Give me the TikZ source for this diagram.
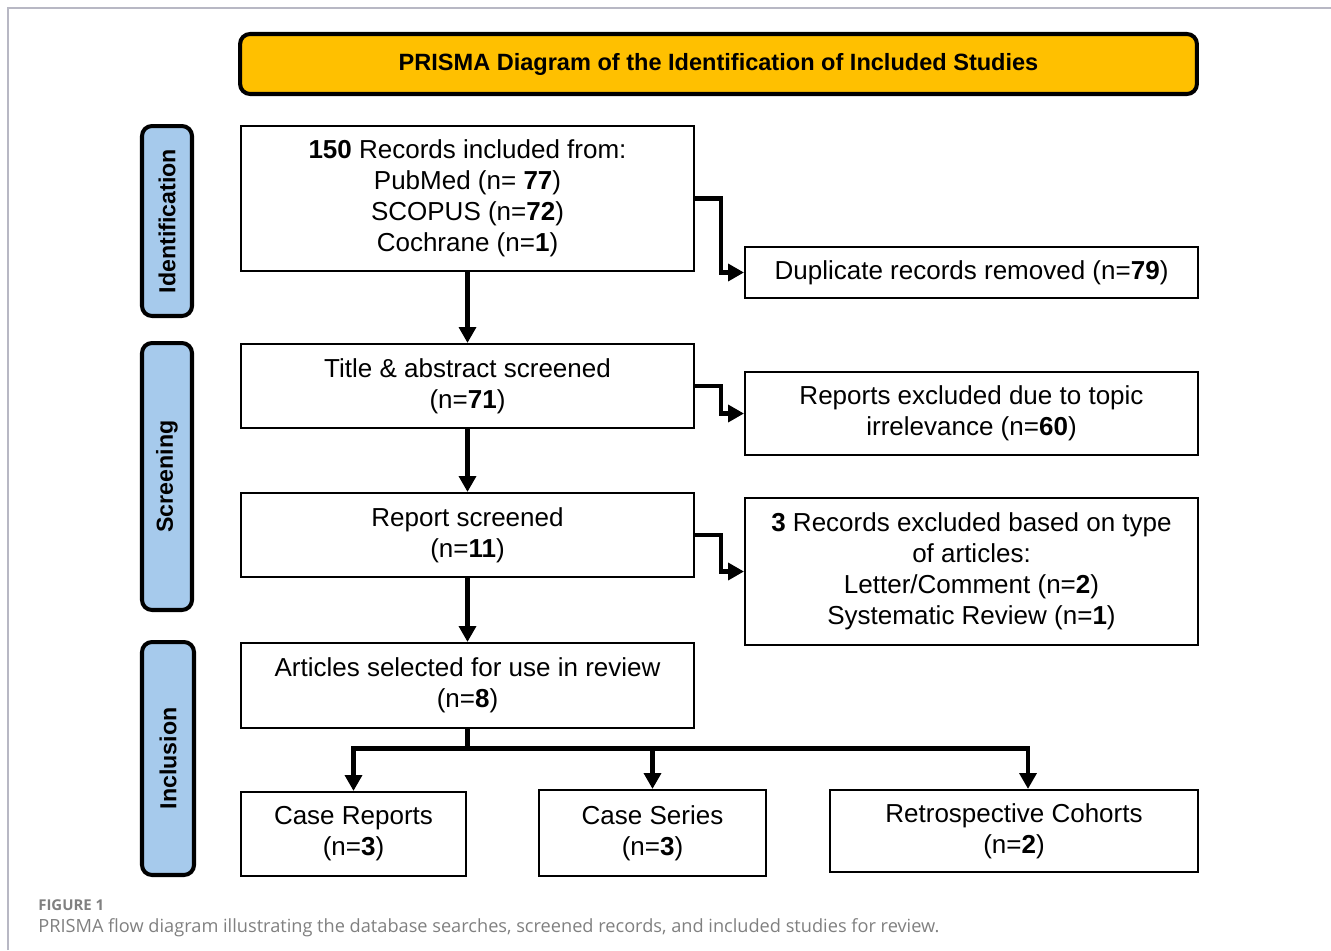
\documentclass[tikz,border=0pt]{standalone}
\usepackage{fontspec}
\setmainfont{Liberation Sans}
\newfontfamily\capfont{Open Sans}
\usetikzlibrary{arrows.meta}
\definecolor{prismagold}{HTML}{FFC000}
\definecolor{stageblue}{HTML}{A6CAEC}
\definecolor{framegray}{HTML}{B8B8C4}
\definecolor{capgray}{HTML}{808080}

\begin{document}
\begin{tikzpicture}[
    x=0.02cm, y=-0.02cm,
    box/.style={draw, line width=1.2pt, inner sep=0pt, align=center,
        minimum width=9.06cm,
        font={\fontsize{14.8}{17.6}\selectfont}},
    stage/.style={draw, line width=2.3pt, rounded corners=0.2cm,
        fill=stageblue, rotate=90, inner sep=0pt, minimum height=1cm,
        font={\fontsize{13.2}{16}\selectfont\bfseries}},
    flow/.style={line width=2.8pt, -{Triangle[length=9pt,width=9.5pt]}},
    link/.style={line width=2.8pt},
    caption/.style={anchor=west, text=capgray, inner sep=0pt},
    ]

    \useasboundingbox (0,0) rectangle (1331,950);

    % Frame lines
    \draw[framegray, line width=0.6pt] (8,950) -- (8,8) -- (1331,8);

    % Heading
    \node[draw, line width=2.3pt, rounded corners=0.2cm, fill=prismagold,
          minimum width=19.14cm, minimum height=1.2cm,
          font={\fontsize{13.4}{16}\selectfont\bfseries}] (heading) at (718.5,64)
        {PRISMA Diagram of the Identification of Included Studies};

    % Stages
    \node[stage, minimum width=3.8cm] (ident) at (167,221) {Identification};
    \node[stage, minimum width=5.34cm] (screening) at (167,476.5) {Screening};
    \node[stage, minimum width=4.66cm, minimum height=1.04cm] (inclusion) at (168,758.5) {Inclusion};

    % Main column
    \node[box, minimum height=2.9cm] (records) at (467.5,198.5)
        {\textbf{150} Records included from:\\ PubMed (n= \textbf{77})\\
         SCOPUS (n=\textbf{72})\\ Cochrane (n=\textbf{1})};
    \node[box, minimum height=1.68cm] (abstract) at (467.5,386)
        {Title \& abstract screened\\ (n=\textbf{71})};
    \node[box, minimum height=1.68cm] (report) at (467.5,535)
        {Report screened\\ (n=\textbf{11})};
    \node[box, minimum height=1.7cm] (articles) at (467.5,685.5)
        {Articles selected for use in review\\ (n=\textbf{8})};

    % Exclusions
    \node[box, minimum height=1.02cm] (dup) at (971.5,272.5)
        {Duplicate records removed (n=\textbf{79})};
    \node[box, minimum height=1.66cm] (topic) at (971.5,413.5)
        {Reports excluded due to topic\\ irrelevance (n=\textbf{60})};
    \node[box, minimum height=2.94cm] (type) at (971.5,571.5)
        {\textbf{3} Records excluded based on type\\ of articles:\\
         Letter/Comment (n=\textbf{2})\\ Systematic Review (n=\textbf{1})};

    % Included studies
    \node[box, minimum width=4.5cm, minimum height=1.68cm] (reports) at (353.5,834)
        {Case Reports\\ (n=\textbf{3})};
    \node[box, minimum width=4.54cm, minimum height=1.72cm] (series) at (652.5,833)
        {Case Series\\ (n=\textbf{3})};
    \node[box, minimum width=7.36cm, minimum height=1.64cm] (cohorts) at (1014,831)
        {Retrospective Cohorts\\ (n=\textbf{2})};

    % Arrows
    \draw[flow] (records) -- (abstract);
    \draw[flow] (abstract) -- (report);
    \draw[flow] (report) -- (articles);
    \draw[flow] (records.east) -- ++(26,0) |- (dup.west);
    \draw[flow] (abstract.east) -- ++(26,0) |- (topic.west);
    \draw[flow] (report.east) -- ++(26,0) |- (type.west);

    \draw[link] (articles.south) -- ++(0,19) coordinate (split);
    \draw[flow] (split) -| (reports.north);
    \draw[flow] (split) -| (series.north);
    \draw[flow] (split) -| ([xshift=0.28cm]cohorts.north);

    % Caption
    \node[caption, font={\capfont\bfseries\fontsize{8.5}{10}\selectfont}] (figno) at (38,905)
        {FIGURE 1};
    \node[caption, font={\capfont\fontsize{10.35}{12}\selectfont}] (figtext) at (38,928)
        {PRISMA flow diagram illustrating the database searches, screened records, and included studies for review.};
\end{tikzpicture}
\end{document}
